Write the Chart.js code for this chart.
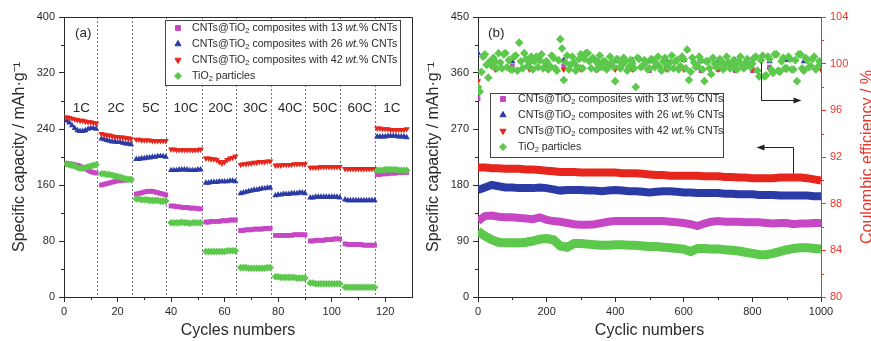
<!DOCTYPE html>
<html>
<head>
<meta charset="utf-8">
<script src="https://cdn.jsdelivr.net/npm/chart.js@4.4.1/dist/chart.umd.min.js"></script>
<style>
  html, body { margin: 0; padding: 0; background: #fff; }
  #wrapA { position: absolute; left: 0; top: 0; width: 420px; height: 341px; }
  #wrapB { position: absolute; left: 420px; top: 0; width: 451px; height: 341px; }
</style>
</head>
<body>
<div id="wrapA"><canvas id="rateChart" width="420" height="341"></canvas></div>
<div id="wrapB"><canvas id="cycleChart" width="451" height="341"></canvas></div>
<script>
// ---------- data, panel (a) : rate test ----------
const rateLabels = ['1C', '2C', '5C', '10C', '20C', '30C', '40C', '50C', '60C', '1C'];
const segStarts = [1, 14, 27, 40, 53, 66, 79, 92, 105, 117];
const segBounds = [12.3, 25.3, 38.2, 51.4, 64.3, 77.3, 90.2, 103.2, 116.3];

const rate13 = [
  191,190,190,189,188,187,185,183,181,179,178,177,
  160,161,162,163,164,165,166,166,167,167,168,168,
  147,148,149,150,151,151,151,150,149,148,147,146,
  130,130,129,129,128,128,128,127,127,127,126,126,
  107,107,108,108,108,108,109,109,109,110,110,110,
  95,95,96,96,96,97,97,97,97,98,98,98,
  88,88,88,88,88,88,88,89,89,89,89,89,
  80,80,81,81,81,81,82,82,82,83,83,83,
  76,75,75,75,75,75,75,74,74,74,74,74,
  175,175,176,176,176,177,177,177,178,178,178,178
];
const rate26 = [
  252,249,245,241,238,237,237,238,240,241,241,240,
  226,225,224,223,222,222,221,221,220,219,219,218,
  197,197,198,198,199,199,200,200,201,201,201,200,
  181,181,181,182,182,182,182,181,181,181,182,182,
  163,163,164,164,164,165,165,165,165,166,166,165,
  148,149,150,151,152,153,153,154,155,155,156,156,
  145,146,146,147,147,147,148,148,148,149,149,148,
  142,142,143,143,143,143,143,143,143,143,143,142,
  139,138,138,138,138,138,138,138,138,138,138,138,
  229,229,229,229,230,230,230,230,229,229,229,228
];
const rate42 = [
  257,256,255,254,253,252,252,251,250,250,249,248,
  233,232,231,231,230,229,229,228,228,227,227,226,
  225,225,224,224,224,224,223,223,223,223,223,223,
  211,211,210,210,210,210,210,210,210,210,210,211,
  198,198,197,197,196,193,191,193,196,198,199,201,
  189,190,190,191,191,192,192,193,193,193,194,194,
  188,188,188,189,189,189,189,190,190,190,190,190,
  185,185,185,185,186,186,186,186,186,186,186,186,
  183,183,183,183,183,183,183,183,183,183,183,183,
  241,241,240,240,240,239,239,239,239,239,239,240
];
const rateTi = [
  190,189,188,187,185,184,184,185,186,187,188,189,
  176,176,175,175,174,173,172,171,170,169,168,168,
  140,140,139,139,139,138,138,138,138,137,137,137,
  106,106,106,106,107,106,106,105,106,106,106,106,
  65,65,65,65,65,65,65,65,66,66,66,66,
  42,42,42,41,41,41,41,41,41,41,42,42,
  29,29,28,28,28,28,28,28,27,27,27,27,
  20,20,19,19,19,19,19,19,19,19,19,19,
  14,14,14,14,14,14,14,14,14,14,14,14,
  181,181,181,182,182,182,182,182,181,181,181,181
];

// ---------- data, panel (b) : long cycling ----------
const capCycles = Array.from({ length: 51 }, (_, i) => i * 20);
const cap42 = [208,208,207,207,206,206,206,205,205,204,203,202,201,201,201,200,200,200,200,200,200,
  199,199,199,198,197,196,196,195,195,195,195,195,194,194,194,193,193,192,192,191,191,191,191,192,192,192,192,191,189,187];
const cap26 = [172,176,180,178,176,176,175,175,175,176,175,173,171,172,172,172,171,171,170,171,172,
  171,170,170,169,168,169,170,170,169,168,168,167,167,167,167,166,166,165,165,165,164,164,164,163,163,163,163,163,162,162];
const cap13 = [122,130,131,129,128,128,127,126,125,128,124,122,121,119,117,116,116,117,119,121,122,
  122,122,122,122,122,122,122,121,120,119,117,114,118,121,122,121,121,121,120,120,120,119,118,119,119,117,118,118,119,119];
const capTi = [106,98,92,88,87,87,87,88,90,93,94,92,82,80,86,86,85,84,83,83,84,
  84,83,83,82,81,81,80,79,78,77,73,78,78,77,77,76,75,74,72,70,68,68,70,73,76,78,79,79,78,77];

const ceCycles = Array.from({ length: 201 }, (_, i) => i * 5);
const ceTi = [
  98.0,97.6,99.3,100.6,100.8,99.9,98.8,100.2,99.8,100.5,100.2,99.6,100.9,100.1,99.6,100.8,100.9,99.7,100.3,99.5,
  99.5,100.6,100.7,99.4,101.8,100.2,99.6,100.9,100.4,99.8,100.1,100.6,99.5,100.2,100.6,99.7,100.3,100.8,99.6,100.1,
  100.2,99.5,99.8,100.7,100.5,99.6,99.4,100.3,102.1,101.3,98.6,100.1,100.7,99.5,99.9,100.6,100.1,99.4,99.7,100.4,
  100.8,99.6,100.4,100.9,100.9,100.2,99.6,100.5,100.3,99.5,100.0,100.7,99.7,100.2,100.2,99.5,99.8,100.6,100.1,99.7,
  98.5,100.4,100.3,99.6,99.9,100.5,100.2,99.4,99.7,100.3,100.0,99.6,98.0,100.5,100.4,99.7,99.8,100.3,100.1,99.5,
  99.6,100.4,100.3,99.7,100.0,100.6,99.7,99.4,100.2,100.5,99.9,99.6,100.1,100.7,99.6,100.2,100.3,99.5,99.8,100.6,
  100.4,99.6,101.2,98.6,99.3,100.5,100.1,99.7,99.8,100.6,100.3,99.5,98.5,100.2,100.2,99.6,99.1,100.5,100.0,99.7,
  99.8,100.4,100.2,99.5,99.9,100.6,100.1,99.6,99.7,100.3,100.0,99.5,100.2,100.6,99.8,99.6,100.1,100.4,99.9,99.7,
  100.0,100.5,100.6,99.4,98.9,100.3,100.7,98.9,99.0,100.6,100.4,99.5,99.2,100.8,100.8,99.4,99.3,100.2,100.5,99.6,
  99.6,100.6,100.4,99.5,99.5,100.3,98.5,100.8,100.8,99.6,99.4,100.5,100.3,99.7,99.8,100.4,100.6,99.5,99.7,100.2,
  100.1
];
const ceSparse = Array.from({ length: 21 }, (_, i) => i * 50);
const ce13 = [97.0,99.7,99.8,99.7,99.7,99.8,99.7,99.8,99.7,99.6,99.4,99.7,99.6,99.4,99.5,99.4,99.4,99.7,99.6,99.4,99.8];
const ce26 = [100.9,100.3,100.2,100.3,100.2,100.3,100.4,100.2,100.2,100.3,100.2,100.2,100.3,100.2,100.2,100.3,100.2,100.2,100.3,100.2,100.2];
const ce42 = [98.5,99.5,99.5,99.5,99.6,99.5,99.5,99.5,99.5,99.5,99.5,99.5,99.5,99.5,99.5,99.5,99.5,99.5,99.5,99.5,99.5];

// ---------- styles ----------
const FONT = '"Liberation Sans", Arial, Helvetica, sans-serif';
const INK = '#2a2a2a';
const C13 = '#c646c6', C26 = '#2a3aa6', C42 = '#e6261c', CTI = '#5cc84c', CERED = '#e8352d';
const loadings = ['13', '26', '42'];

const legendRows = [
  { style: 'rect', rot: 0, color: C13, parts: [['CNTs@TiO'], ['2', 'sub'], [' composites with ' + loadings[0] + ' '], ['wt.', 'it'], ['% CNTs']] },
  { style: 'triangle', rot: 0, color: C26, parts: [['CNTs@TiO'], ['2', 'sub'], [' composites with ' + loadings[1] + ' '], ['wt.', 'it'], ['% CNTs']] },
  { style: 'triangle', rot: 180, color: C42, parts: [['CNTs@TiO'], ['2', 'sub'], [' composites with ' + loadings[2] + ' '], ['wt.', 'it'], ['% CNTs']] },
  { style: 'rectRot', rot: 0, color: CTI, parts: [['TiO'], ['2', 'sub'], [' particles']] }
];

function pts(xs, ys) { return ys.map((v, i) => ({ x: xs[i], y: v })); }
const rateX = segStarts.flatMap(s => Array.from({ length: 12 }, (_, j) => s + j));

function drawRich(ctx, x, y, parts) {
  ctx.textBaseline = 'middle';
  ctx.textAlign = 'left';
  parts.forEach(([t, kind]) => {
    ctx.font = (kind === 'it' ? 'italic ' : '') + (kind === 'sub' ? 7.5 : 10.6) + 'px ' + FONT;
    ctx.fillText(t, x, y + (kind === 'sub' ? 3 : 0));
    x += ctx.measureText(t).width;
  });
}

function drawLegend(ctx, box) {
  ctx.save();
  ctx.fillStyle = '#fff';
  ctx.fillRect(box.x, box.y, box.w, box.h);
  ctx.strokeStyle = '#444';
  ctx.lineWidth = 1;
  ctx.strokeRect(box.x + 0.5, box.y + 0.5, box.w, box.h);
  legendRows.forEach((r, i) => {
    const yy = box.y + box.first + i * box.step;
    ctx.fillStyle = r.color; ctx.strokeStyle = r.color;
    Chart.helpers.drawPoint(ctx, { pointStyle: r.style, rotation: r.rot, radius: 3.5, borderWidth: 1 }, box.x + box.mx, yy);
    ctx.fillStyle = INK;
    drawRich(ctx, box.x + box.tx, yy, r.parts);
  });
  ctx.restore();
}

const minorTicks = {
  id: 'minorTicks',
  afterDraw(chart, args, opts) {
    const ctx = chart.ctx, ca = chart.chartArea;
    (opts.list || []).forEach(m => {
      const sc = chart.scales[m.axis];
      ctx.save();
      ctx.strokeStyle = m.color || INK;
      ctx.lineWidth = 1;
      ctx.beginPath();
      for (let v = m.start; v < sc.max; v += m.step) {
        const p = Math.round(sc.getPixelForValue(v)) + 0.5;
        if (m.axis === 'x') { ctx.moveTo(p, ca.bottom); ctx.lineTo(p, ca.bottom + 3); }
        else if (sc.position === 'right') { ctx.moveTo(ca.right, p); ctx.lineTo(ca.right + 3, p); }
        else { ctx.moveTo(ca.left - 3, p); ctx.lineTo(ca.left, p); }
      }
      ctx.stroke();
      ctx.restore();
    });
  }
};

// ---------- chart (a) ----------
const rateDecor = {
  id: 'rateDecor',
  beforeDatasetsDraw(chart) {
    const ctx = chart.ctx, ca = chart.chartArea, x = chart.scales.x;
    ctx.save();
    ctx.strokeStyle = '#777';
    ctx.setLineDash([2, 2]);
    ctx.lineWidth = 1;
    segBounds.forEach(b => {
      const p = Math.round(x.getPixelForValue(b)) + 0.5;
      ctx.beginPath(); ctx.moveTo(p, ca.top); ctx.lineTo(p, ca.bottom); ctx.stroke();
    });
    ctx.restore();
  },
  afterDraw(chart) {
    const ctx = chart.ctx, ca = chart.chartArea, x = chart.scales.x;
    ctx.save();
    ctx.strokeStyle = INK; ctx.lineWidth = 1;
    ctx.beginPath();
    ctx.moveTo(ca.left, ca.top + 0.5); ctx.lineTo(ca.right + 0.5, ca.top + 0.5); ctx.lineTo(ca.right + 0.5, ca.bottom);
    ctx.stroke();
    ctx.fillStyle = INK;
    ctx.font = '13.5px ' + FONT;
    ctx.textAlign = 'center'; ctx.textBaseline = 'middle';
    rateLabels.forEach((t, i) => ctx.fillText(t, x.getPixelForValue(segStarts[i] + 5.5), 108));
    ctx.textAlign = 'left';
    ctx.fillText('(a)', 75, 33);
    ctx.restore();
    drawLegend(ctx, { x: 165, y: 20, w: 235, h: 65, first: 8, step: 16, mx: 13, tx: 27 });
  }
};

new Chart(document.getElementById('rateChart'), {
  type: 'scatter',
  data: {
    datasets: [
      { data: pts(rateX, rate13), pointStyle: 'rect', backgroundColor: C13, borderColor: C13, pointRadius: 3.4, borderWidth: 0, order: 3 },
      { data: pts(rateX, rate26), pointStyle: 'triangle', backgroundColor: C26, borderColor: C26, pointRadius: 3.6, borderWidth: 0, order: 2 },
      { data: pts(rateX, rate42), pointStyle: 'triangle', rotation: 180, backgroundColor: C42, borderColor: C42, pointRadius: 3.6, borderWidth: 0, order: 1 },
      { data: pts(rateX, rateTi), pointStyle: 'rectRot', backgroundColor: CTI, borderColor: CTI, pointRadius: 3.8, borderWidth: 0, order: 0 }
    ]
  },
  options: {
    responsive: false,
    animation: false,
    events: [],
    layout: { padding: { left: 0, top: 17, right: 8, bottom: 0 } },
    plugins: {
      legend: { display: false },
      tooltip: { enabled: false },
      minorTicks: { list: [{ axis: 'x', start: 10, step: 20 }, { axis: 'y', start: 40, step: 80 }] }
    },
    scales: {
      x: {
        type: 'linear', min: 0, max: 130,
        border: { color: INK, width: 1 },
        grid: { drawOnChartArea: false, tickLength: 5, color: INK },
        ticks: { stepSize: 20, includeBounds: false, color: INK, font: { family: FONT, size: 11 }, padding: 3, maxRotation: 0 },
        title: { display: true, text: 'Cycles numbers', color: INK, font: { family: FONT, size: 16 }, padding: { top: 0, bottom: 1 } },
        afterFit(s) { s.height = 44; }
      },
      y: {
        min: 0, max: 400,
        border: { color: INK, width: 1 },
        grid: { drawOnChartArea: false, tickLength: 5, color: INK },
        ticks: { stepSize: 80, includeBounds: false, color: INK, font: { family: FONT, size: 11 }, padding: 4 },
        title: { display: true, text: 'Specific capacity / mAh·g⁻¹', color: INK, font: { family: FONT, size: 16 }, padding: { top: 10, bottom: 0 } },
        afterFit(s) { s.width = 64; }
      }
    }
  },
  plugins: [rateDecor, minorTicks]
});

// ---------- chart (b) ----------
const arrows = [
  [[825, 377], [825, 317], [935, 317]],
  [[918, 199], [918, 241], [815, 241]]
];

const cycleDecor = {
  id: 'cycleDecor',
  afterDraw(chart) {
    const ctx = chart.ctx, ca = chart.chartArea, x = chart.scales.x, y = chart.scales.y;
    ctx.save();
    ctx.strokeStyle = INK; ctx.lineWidth = 1;
    ctx.beginPath(); ctx.moveTo(ca.left, ca.top + 0.5); ctx.lineTo(ca.right, ca.top + 0.5); ctx.stroke();
    ctx.fillStyle = INK;
    ctx.font = '13.5px ' + FONT;
    ctx.textAlign = 'left'; ctx.textBaseline = 'middle';
    ctx.fillText('(b)', 68, 33);
    // arrows
    ctx.strokeStyle = '#222'; ctx.fillStyle = '#222';
    arrows.forEach(a => {
      const p = a.map(([cx, cy]) => [Math.round(x.getPixelForValue(cx)) + 0.5, Math.round(y.getPixelForValue(cy)) + 0.5]);
      ctx.beginPath();
      ctx.moveTo(p[0][0], p[0][1]);
      p.slice(1).forEach(q => ctx.lineTo(q[0], q[1]));
      ctx.stroke();
      const e = p[p.length - 1], s = p[p.length - 2];
      const dir = Math.sign(e[0] - s[0]);
      ctx.beginPath();
      ctx.moveTo(e[0] + dir * 2, e[1]);
      ctx.lineTo(e[0] - dir * 6, e[1] - 3);
      ctx.lineTo(e[0] - dir * 6, e[1] + 3);
      ctx.closePath(); ctx.fill();
    });
    // right axis title (reads bottom to top)
    ctx.translate(448, (ca.top + ca.bottom) / 2);
    ctx.rotate(-Math.PI / 2);
    ctx.textAlign = 'center'; ctx.textBaseline = 'middle';
    ctx.fillStyle = CERED;
    ctx.font = '16px ' + FONT;
    ctx.fillText('Coulombic efficiency / %', 0, 0);
    ctx.restore();
    drawLegend(ctx, { x: 70, y: 93, w: 233, h: 64, first: 6, step: 16, mx: 13, tx: 28 });
  }
};

const bandOpts = { showLine: true, pointRadius: 0, borderWidth: 8, yAxisID: 'y' };

new Chart(document.getElementById('cycleChart'), {
  type: 'scatter',
  data: {
    datasets: [
      { ...bandOpts, data: pts(capCycles, cap42), borderColor: C42, order: 6 },
      { ...bandOpts, data: pts(capCycles, cap26), borderColor: C26, order: 5 },
      { ...bandOpts, data: pts(capCycles, cap13), borderColor: C13, order: 4 },
      { ...bandOpts, data: pts(capCycles, capTi), borderColor: CTI, borderWidth: 9, order: 3 },
      { data: pts(ceSparse, ce13), yAxisID: 'y1', pointStyle: 'rect', backgroundColor: C13, borderWidth: 0, pointRadius: 3.4, order: 2 },
      { data: pts(ceSparse, ce26), yAxisID: 'y1', pointStyle: 'triangle', backgroundColor: C26, borderWidth: 0, pointRadius: 3.6, order: 2 },
      { data: pts(ceSparse, ce42), yAxisID: 'y1', pointStyle: 'triangle', rotation: 180, backgroundColor: C42, borderWidth: 0, pointRadius: 3.6, order: 1 },
      { data: pts(ceCycles, ceTi), yAxisID: 'y1', pointStyle: 'rectRot', backgroundColor: CTI, borderWidth: 0, pointRadius: 4.3, order: 0 }
    ]
  },
  options: {
    responsive: false,
    animation: false,
    events: [],
    layout: { padding: { left: 0, top: 17, right: 0, bottom: 0 } },
    plugins: {
      legend: { display: false },
      tooltip: { enabled: false },
      minorTicks: { list: [
        { axis: 'x', start: 100, step: 200 },
        { axis: 'y', start: 45, step: 90 },
        { axis: 'y1', start: 82, step: 4, color: CERED }
      ] }
    },
    scales: {
      x: {
        type: 'linear', min: 0, max: 1000,
        border: { color: INK, width: 1 },
        grid: { drawOnChartArea: false, tickLength: 5, color: INK },
        ticks: { stepSize: 200, includeBounds: false, color: INK, font: { family: FONT, size: 11 }, padding: 3, maxRotation: 0,
          callback: v => String(v) },
        title: { display: true, text: 'Cyclic numbers', color: INK, font: { family: FONT, size: 16 }, padding: { top: 0, bottom: 1 } },
        afterFit(s) { s.height = 44; }
      },
      y: {
        position: 'left', min: 0, max: 450,
        border: { color: INK, width: 1 },
        grid: { drawOnChartArea: false, tickLength: 5, color: INK },
        ticks: { stepSize: 90, includeBounds: false, color: INK, font: { family: FONT, size: 11 }, padding: 4 },
        title: { display: true, text: 'Specific capacity / mAh·g⁻¹', color: INK, font: { family: FONT, size: 16 }, padding: { top: 4, bottom: 0 } },
        afterFit(s) { s.width = 58; }
      },
      y1: {
        position: 'right', min: 80, max: 104,
        border: { color: CERED, width: 1 },
        grid: { drawOnChartArea: false, tickLength: 5, color: CERED },
        ticks: { stepSize: 4, includeBounds: false, color: CERED, font: { family: FONT, size: 11 }, padding: 4 },
        afterFit(s) { s.width = 50; }
      }
    }
  },
  plugins: [cycleDecor, minorTicks]
});
</script>
</body>
</html>
